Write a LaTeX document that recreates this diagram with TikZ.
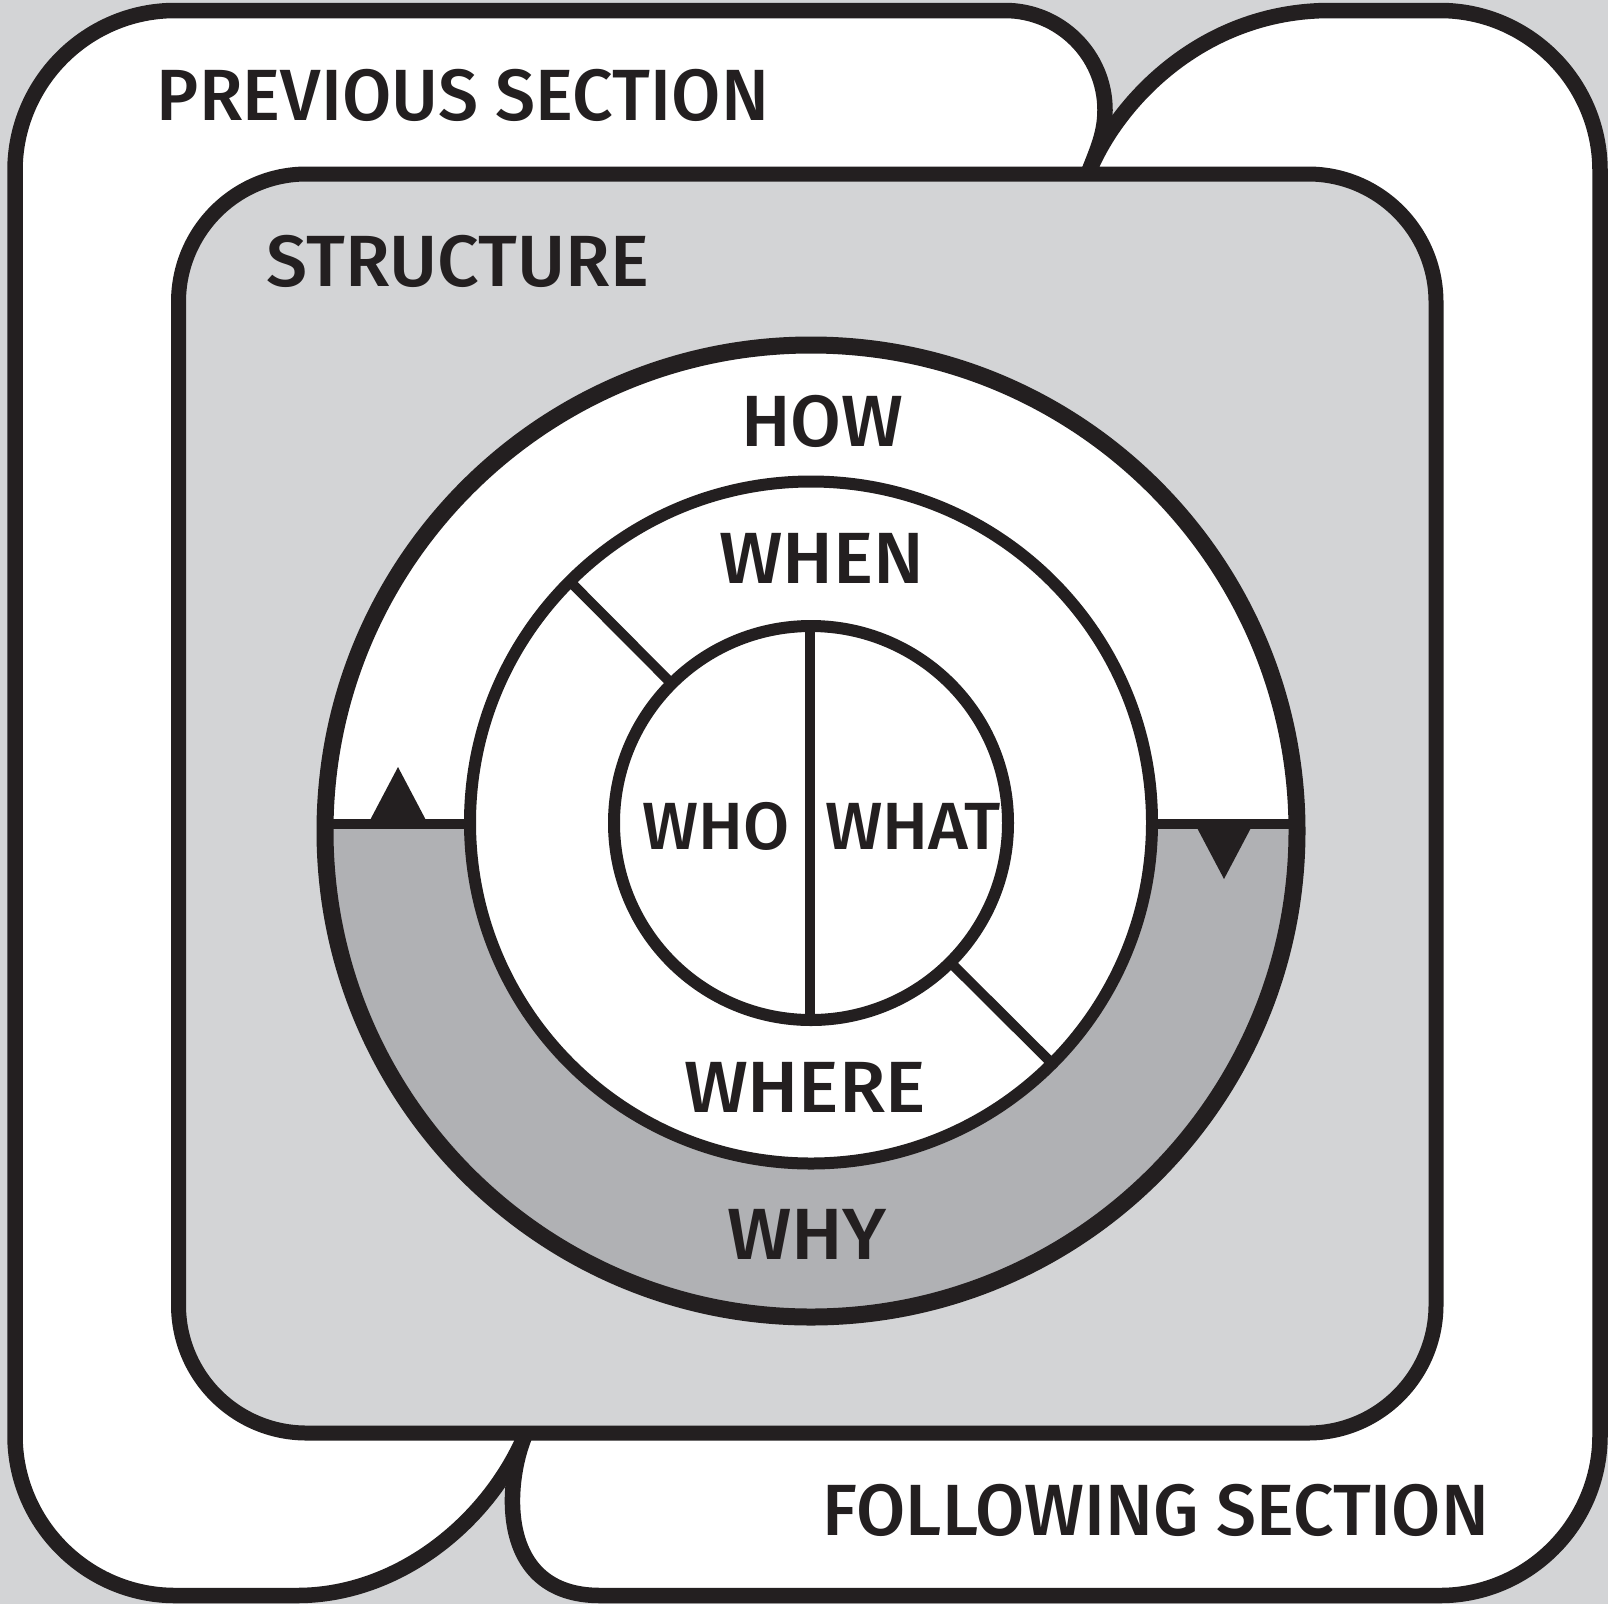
\documentclass[tikz,border=0pt]{standalone}
\usepackage{fontspec}
\setmainfont{Fira Sans Medium}
\usepackage{graphicx}
\usetikzlibrary{calc}
\definecolor{ink}{HTML}{231F20}
\definecolor{bgc}{HTML}{D3D4D6}
\definecolor{band}{HTML}{B0B1B4}
\newcommand\lbl[2]{\resizebox{#1pt}{\height}{#2}}
\tikzset{
  sect/.style={fill=white, draw=ink, line width=15.5pt, line join=round},
  boxst/.style={fill=bgc, draw=ink, line width=15pt},
  thin/.style={draw=ink, line width=10pt},
  lab/.style={inner sep=0pt, anchor=base, text=ink, font=\fontsize{72.6}{80}\selectfont},
  labs/.style={lab, font=\fontsize{66.8}{74}\selectfont},
}
\begin{document}
\begin{tikzpicture}[x=1pt,y=-1pt]
\fill[bgc] (0,0) rectangle (1608,1604);
\useasboundingbox (0,0) rectangle (1608,1604);

% previous section shape
\path[sect] (15,170.5) .. controls (15,82.5) and (87,10.5) .. (175,10.5)
  -- (1005,10.5) .. controls (1060,10.5) and (1105,55) .. (1105,110)
  .. controls (1105,135) and (1096,152) .. (1088,174)
  -- (1088,300) -- (300,300) -- (300,1300) -- (540,1300) -- (526,1433)
  .. controls (490,1520) and (400,1595.5) .. (297,1595.5)
  -- (175,1595.5) .. controls (87,1595.5) and (15,1523.5) .. (15,1435.5) -- cycle;

% following section shape
\path[sect] (1088,174) .. controls (1115,105) and (1200,10.5) .. (1330,10.5)
  -- (1440,10.5) .. controls (1528,10.5) and (1600,82.5) .. (1600,170.5)
  -- (1600,1435.5) .. controls (1600,1523.5) and (1528,1595.5) .. (1440,1595.5)
  -- (600,1595.5) .. controls (495,1595.5) and (505,1480) .. (526,1433)
  -- (560,1300) -- (1300,1300) -- (1300,300) -- (1100,300) -- cycle;

% structure box
\draw[boxst, rounded corners=128pt] (178.5,174) rectangle (1436,1433);

% circles geometry
\coordinate (oc) at (811,831);
\coordinate (mc) at (811,822.5);
\coordinate (ic) at (811,823);
\fill[white] (oc) circle[radius=486pt];
\begin{scope}
  \clip (0,824) rectangle (1608,1604);
  \fill[band, even odd rule] (oc) circle[radius=486pt] (mc) circle[radius=341pt];
\end{scope}

% dividers
\coordinate (hl1) at (320,824);
\coordinate (hl2) at (472,824);
\coordinate (hr1) at (1150,824);
\coordinate (hr2) at (1302,824);
\draw[thin] (hl1) -- (hl2);
\draw[thin] (hr1) -- (hr2);
\coordinate (tl1) at (368,824);
\coordinate (tl2) at (428,824);
\coordinate (tl3) at (398,767);
\fill[ink] (tl1) -- (tl2) -- (tl3) -- cycle;
\coordinate (tr1) at (1195,824);
\coordinate (tr2) at (1253,824);
\coordinate (tr3) at (1224,879);
\fill[ink] (tr1) -- (tr2) -- (tr3) -- cycle;

\coordinate (d1a) at ($(mc)+(-241,-241)$);
\coordinate (d1b) at ($(ic)+(-139.3,-139.3)$);
\coordinate (d2a) at ($(mc)+(241,241)$);
\coordinate (d2b) at ($(ic)+(139.3,139.3)$);
\draw[thin] (d1a) -- (d1b);
\draw[thin] (d2a) -- (d2b);
\coordinate (vt) at (810,626);
\coordinate (vb) at (810,1020);
\draw[thin] (vt) -- (vb);

% circle strokes
\draw[ink, line width=17pt] (oc) circle[radius=486pt];
\draw[ink, line width=12pt] (mc) circle[radius=341pt];
\draw[ink, line width=12pt] (ic) circle[radius=197pt];

% labels
\node[lab] (prev) at (463,120) {\lbl{612}{PREVIOUS SECTION}};
\node[lab] (struct) at (458,286) {\lbl{382}{STRUCTURE}};
\node[lab] (how) at (822.5,446) {\lbl{162}{HOW}};
\node[lab] (when) at (821.5,583.5) {\lbl{205}{WHEN}};
\node[labs] (who) at (716,849) {\lbl{147}{WHO}};
\node[labs] (what) at (913,849) {\lbl{176}{WHAT}};
\node[lab] (where) at (805,1112) {\lbl{242}{WHERE}};
\node[lab] (why) at (807,1259) {\lbl{160}{WHY}};
\node[lab] (foll) at (1156,1535) {\lbl{666}{FOLLOWING SECTION}};
\end{tikzpicture}
\end{document}
